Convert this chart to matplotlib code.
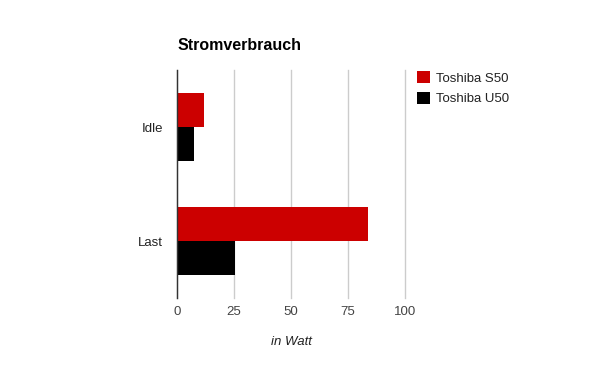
import matplotlib
matplotlib.use("Agg")
import matplotlib.pyplot as plt
import numpy as np

plt.rcParams['font.family'] = ['Liberation Sans', 'DejaVu Sans']

categories = ["Idle", "Last"]
series_names = ["Toshiba S50", "Toshiba U50"]
s50 = [11.8, 83.8]
u50 = [7.5, 25.4]
colors = ["#cc0000", "#000000"]
xticks = [0, 25, 50, 75, 100]

fig = plt.figure(figsize=(6, 3.71), dpi=100)
ax = fig.add_axes([177/600, 73/371, 228/600, 228/371])

y = np.arange(len(categories))
h = 0.3
ax.barh(y - h/2, s50, height=h, color=colors[0], label=series_names[0], zorder=3)
ax.barh(y + h/2, u50, height=h, color=colors[1], label=series_names[1], zorder=3)

ax.set_ylim(len(categories) - 0.5, -0.5)
ax.set_xlim(0, 100)
ax.set_xticks(xticks)
ax.set_xticklabels([str(t) for t in xticks])
ax.set_yticks(y)
ax.set_yticklabels(categories)
ax.grid(axis='x', color='#cccccc', linewidth=1, zorder=0)
for gl in ax.get_xgridlines():
    gl.set_clip_on(False)
for s in ['top', 'right', 'bottom']:
    ax.spines[s].set_visible(False)
ax.spines['left'].set_color('#333333')
ax.spines['left'].set_linewidth(1)
ax.spines['left'].set_zorder(4)
ax.tick_params(axis='x', length=0, pad=6, labelsize=9.5, labelcolor='#444444')
ax.tick_params(axis='y', length=0, pad=10, labelsize=9.5, labelcolor='#222222')
ax.set_xlabel("in Watt", fontstyle='italic', fontsize=9.5, color='#222222', labelpad=13)

fig.text(178/600, 1 - 45/371, "Stromverbrauch", fontsize=11.5, fontweight='bold',
         color='#000000', va='center', ha='left')

ax.legend(loc='upper left', bbox_to_anchor=(412/600, 1 - 66/371), bbox_transform=fig.transFigure,
          frameon=False, fontsize=9.5, handlelength=1.0, handleheight=1.0,
          handletextpad=0.4, labelspacing=0.55, labelcolor='#222222', borderaxespad=0)

fig.savefig("out.png", dpi=100)
